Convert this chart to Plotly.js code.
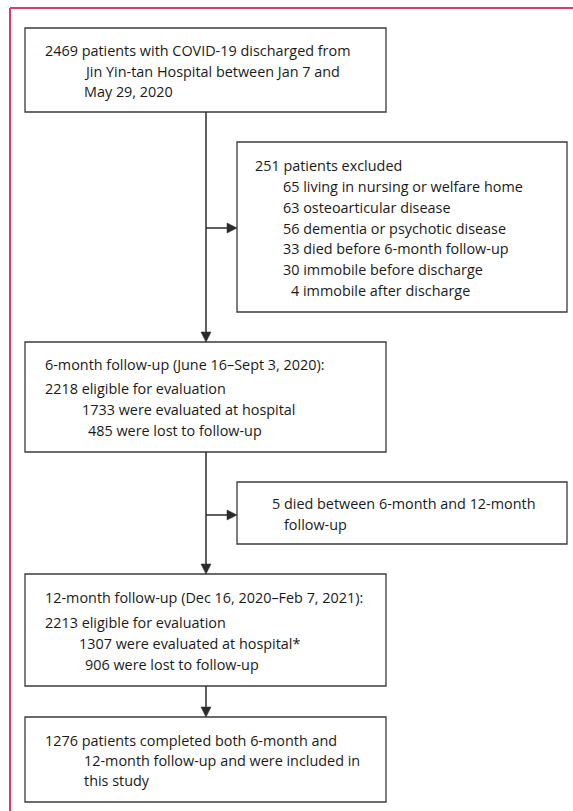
<!DOCTYPE html>
<html>
<head>
<meta charset="utf-8">
<script src="https://cdn.plot.ly/plotly-3.0.1.min.js"></script>
<style>html,body{margin:0;padding:0;background:#fff;}#chart{width:573px;height:811px;}</style>
</head>
<body>
<div id="chart"></div>
<script>
// Flowchart content
const box1Lines = ["2469 patients with COVID-19 discharged from", "Jin Yin-tan Hospital between Jan 7 and", "May 29, 2020"];
const excludedLines = ["251 patients excluded", "65 living in nursing or welfare home", "63 osteoarticular disease", "56 dementia or psychotic disease", "33 died before 6-month follow-up", "30 immobile before discharge", "4 immobile after discharge"];
const sixMonthLines = ["6-month follow-up (June 16–Sept 3, 2020):", "2218 eligible for evaluation", "1733 were evaluated at hospital", "485 were lost to follow-up"];
const diedLines = ["5 died between 6-month and 12-month", "follow-up"];
const twelveMonthLines = ["12-month follow-up (Dec 16, 2020–Feb 7, 2021):", "2213 eligible for evaluation", "1307 were evaluated at hospital*", "906 were lost to follow-up"];
const finalLines = ["1276 patients completed both 6-month and", "12-month follow-up and were included in", "this study"];

// layout geometry (pixels)
const boxes = [
  {x0:25, x1:386, y0:28, y1:112, lines:box1Lines, xs:[43,82,82], ys:[50,71,91]},
  {x0:237, x1:567, y0:142, y1:312, lines:excludedLines, xs:[253,281,281,281,281,281,289], ys:[165,186,207,228,248,269,290]},
  {x0:25, x1:386, y0:342, y1:452, lines:sixMonthLines, xs:[43,43,80,86], ys:[364,388,409,430]},
  {x0:237, x1:567, y0:482, y1:544, lines:diedLines, xs:[270,282], ys:[503,524]},
  {x0:25, x1:386, y0:574, y1:686, lines:twelveMonthLines, xs:[43,43,77,83], ys:[597,622,643,664]},
  {x0:25, x1:386, y0:717, y1:802, lines:finalLines, xs:[43,82,82], ys:[740,760,780]}
];
const cx = 206;
const lineColor = "#2b2b2b";
const shapes = [];
const annotations = [];

// pink frame
shapes.push({type:"line", xref:"x", yref:"y", x0:10, x1:573, y0:8, y1:8, line:{color:"#dc3a6e", width:2}});
shapes.push({type:"line", xref:"x", yref:"y", x0:10, x1:10, y0:8, y1:811, line:{color:"#dc3a6e", width:2}});

boxes.forEach(b => {
  shapes.push({type:"rect", xref:"x", yref:"y", x0:b.x0, x1:b.x1, y0:b.y0, y1:b.y1, line:{color:"#3a3a3a", width:1.3}, fillcolor:"rgba(0,0,0,0)"});
  b.lines.forEach((t,i) => {
    annotations.push({xref:"x", yref:"y", x:b.xs[i], y:b.ys[i], text:t, showarrow:false, xanchor:"left", yanchor:"middle",
      font:{family:"Open Sans, Noto Sans, sans-serif", size:14.4, color:"#1a1a1a"}});
  });
});

function vline(x, y0, y1){ shapes.push({type:"line", xref:"x", yref:"y", x0:x, x1:x, y0:y0, y1:y1, line:{color:lineColor, width:1.5}}); }
function hline(y, x0, x1){ shapes.push({type:"line", xref:"x", yref:"y", x0:x0, x1:x1, y0:y, y1:y, line:{color:lineColor, width:1.5}}); }
function downHead(x, y){ shapes.push({type:"path", xref:"x", yref:"y", path:`M ${x-5} ${y-10} L ${x+5} ${y-10} L ${x} ${y} Z`, fillcolor:lineColor, line:{color:lineColor, width:0.5}}); }
function rightHead(x, y){ shapes.push({type:"path", xref:"x", yref:"y", path:`M ${x-10} ${y-5} L ${x-10} ${y+5} L ${x} ${y} Z`, fillcolor:lineColor, line:{color:lineColor, width:0.5}}); }

vline(cx, 112, 334); downHead(cx, 342);
hline(228, cx, 229); rightHead(237, 228);
vline(cx, 452, 566); downHead(cx, 574);
hline(515, cx, 229); rightHead(237, 515);
vline(cx, 686, 709); downHead(cx, 717);

const layout = {
  width:573, height:811, margin:{l:0,r:0,t:0,b:0},
  paper_bgcolor:"#fff", plot_bgcolor:"#fff",
  xaxis:{range:[0,573], visible:false, fixedrange:true},
  yaxis:{range:[811,0], visible:false, fixedrange:true},
  shapes:shapes, annotations:annotations, showlegend:false
};
Plotly.newPlot("chart", [{x:[0], y:[0], mode:"markers", marker:{opacity:0}, hoverinfo:"skip"}], layout, {staticPlot:true});
</script>
</body>
</html>
